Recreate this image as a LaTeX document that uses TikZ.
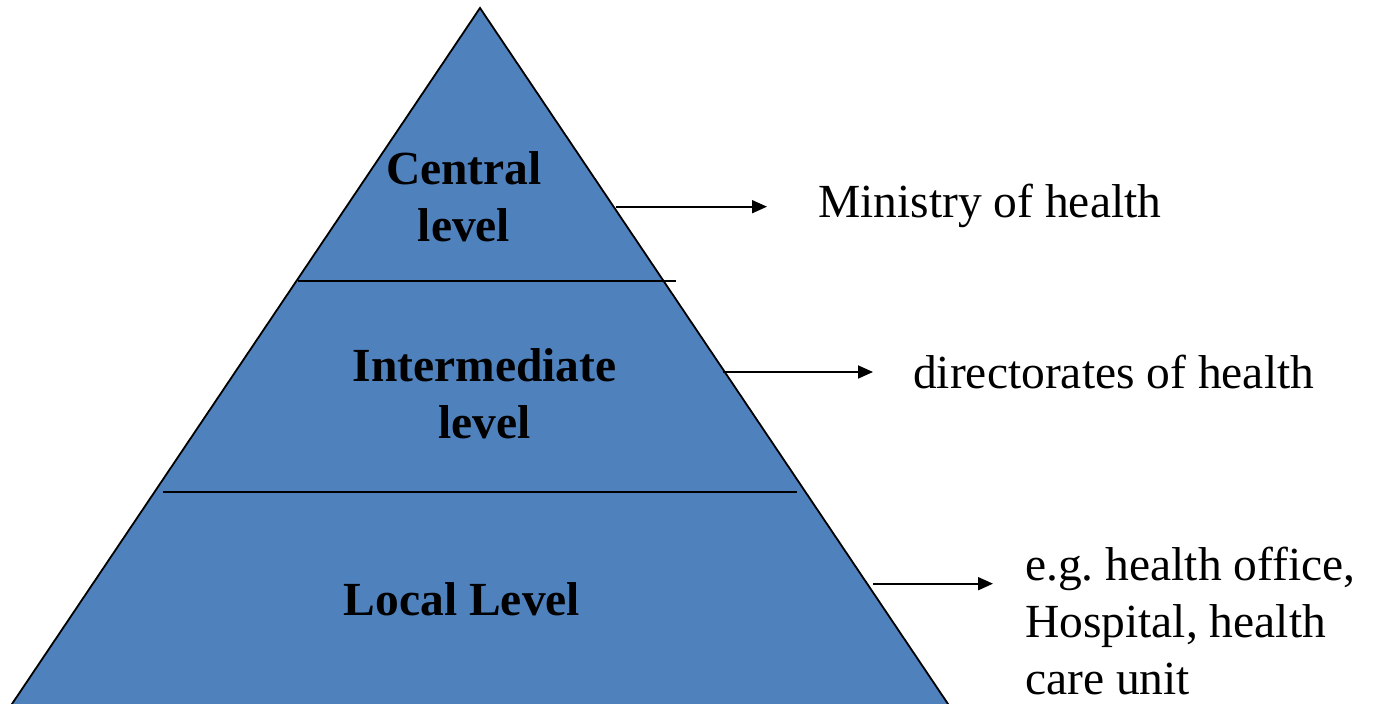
\documentclass[tikz,border=0pt]{standalone}
\usepackage{fontspec}
\setmainfont{Liberation Serif}
\usetikzlibrary{arrows.meta}
\definecolor{tierblue}{HTML}{4F81BD}
\frenchspacing
\tikzset{
  edge/.style={line width=1.8pt, line join=miter},
  divider/.style={line width=2pt},
  tierlabel/.style={font=\fontsize{47.5pt}{57pt}\selectfont\bfseries, align=center, inner sep=0pt, anchor=base},
  sidelabel/.style={font=\fontsize{47.5pt}{57pt}\selectfont, align=left, inner sep=0pt, anchor=base west},
  pointer/.style={line width=1.8pt, -{Triangle[length=15pt,width=13pt]}}
}
\begin{document}
\begin{tikzpicture}[x=1pt,y=1pt]
  \useasboundingbox (0,0) rectangle (1377,704);
  \begin{scope}
    \clip (0,0) rectangle (1377,704);
    % pyramid, base running just past the lower edge
    \coordinate (apex) at (480,696);
    \coordinate (baseL) at (8.6,-5);
    \coordinate (baseR) at (951.4,-5);
    \fill[tierblue] (baseL) -- (apex) -- (baseR) -- cycle;
    \draw[edge] (baseL) -- (apex) -- (baseR);
  \end{scope}

  % tier dividers
  \coordinate (d1L) at (298,423);
  \coordinate (d1R) at (676,423);
  \coordinate (d2L) at (163,212);
  \coordinate (d2R) at (797,212);
  \draw[divider] (d1L) -- (d1R);
  \draw[divider] (d2L) -- (d2R);

  % tier names (base anchor sits on the last line)
  \node[tierlabel] (central) at (464,462) {Central\\level};
  \node[tierlabel] (intermediate) at (484.5,265) {Intermediate\\level};
  \node[tierlabel] (local) at (462,88) {Local Level};

  % what each tier stands for
  \node[sidelabel] (ministry) at (818,486) {Ministry of health};
  \node[sidelabel] (directorates) at (913,315) {directorates of health};
  \node[sidelabel] (units) at (1025,9) {e.g. health office,\\Hospital, health\\care unit};

  % pointers from the pyramid to the descriptions
  \coordinate (p1s) at (616,497.3);
  \coordinate (p1e) at (767,497.3);
  \coordinate (p2s) at (723,332);
  \coordinate (p2e) at (873,332);
  \coordinate (p3s) at (873,120.3);
  \coordinate (p3e) at (993,120.3);
  \draw[pointer] (p1s) -- (p1e);
  \draw[pointer] (p2s) -- (p2e);
  \draw[pointer] (p3s) -- (p3e);
\end{tikzpicture}
\end{document}
